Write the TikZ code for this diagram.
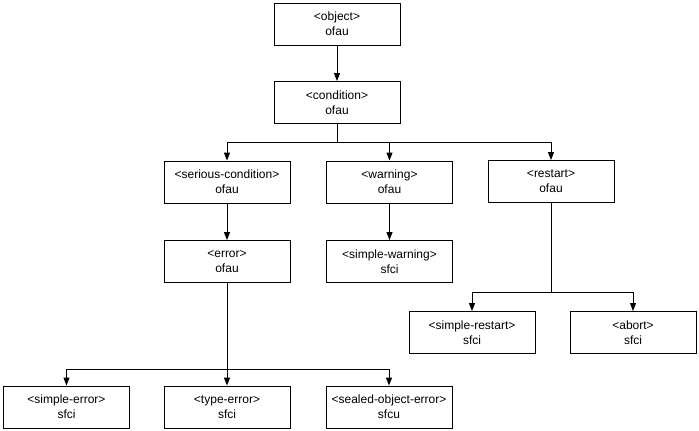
\documentclass[tikz,border=0pt]{standalone}
\usepackage{fontspec}
\setmainfont{Liberation Sans}
\usetikzlibrary{arrows.meta}
\begin{document}
\begin{tikzpicture}[x=1pt,y=-1pt,
  cls/.style={draw=black,line width=0.9pt,minimum width=126pt,minimum height=42pt,inner sep=0pt,
    align=center,font=\fontsize{12}{15}\selectfont},
  arr/.style={line width=0.9pt,-{Triangle[width=6pt,length=8pt]}}]
\useasboundingbox[fill=white] (0,0) rectangle (699,431);
\node[cls] (obj) at (337,24) {<object>\\ofau};
\node[cls] (cond) at (337,102.5) {<condition>\\ofau};
\node[cls] (ser) at (227,182) {<serious-condition>\\ofau};
\node[cls] (warn) at (389.5,182) {<warning>\\ofau};
\node[cls] (rest) at (551,181.5) {<restart>\\ofau};
\node[cls] (err) at (227,261.5) {<error>\\ofau};
\node[cls] (swarn) at (389.5,261.5) {<simple-warning>\\sfci};
\node[cls] (srest) at (472,332.5) {<simple-restart>\\sfci};
\node[cls] (abort) at (633,332.5) {<abort>\\sfci};
\node[cls] (serr) at (66.5,407) {<simple-error>\\sfci};
\node[cls] (terr) at (227,407) {<type-error>\\sfci};
\node[cls] (soerr) at (389,407) {<sealed-object-error>\\sfcu};
\coordinate (b1) at (337,142);
\coordinate (b2) at (551,292);
\coordinate (b3) at (227,369);
\draw[arr] (obj) -- (cond);
\draw[arr] (cond.south) -- (b1) -| (ser.north);
\draw[arr] (b1) -| (warn.north);
\draw[arr] (b1) -| (rest.north);
\draw[arr] (ser) -- (err);
\draw[arr] (warn) -- (swarn);
\draw[arr] (rest.south) -- (b2) -| (srest.north);
\draw[arr] (b2) -| (abort.north);
\draw[arr] (err.south) -- (b3) -| (serr.north);
\draw[arr] (b3) -- (terr.north);
\draw[arr] (b3) -| (soerr.north);
\end{tikzpicture}
\end{document}
